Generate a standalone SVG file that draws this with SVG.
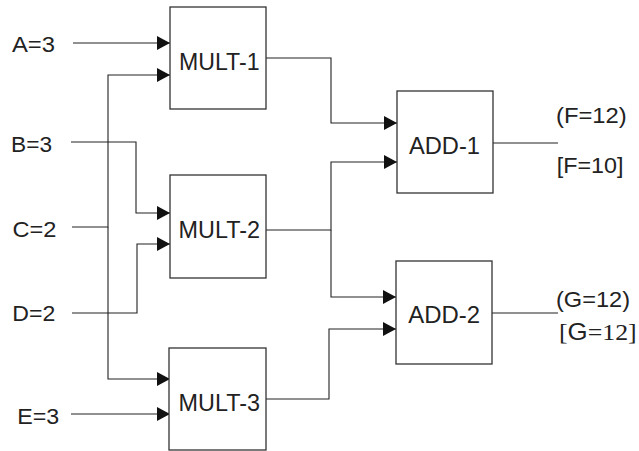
<svg xmlns="http://www.w3.org/2000/svg" width="639" height="451" viewBox="0 0 639 451">
<style>
.box{fill:#fff;stroke:#333;stroke-width:1.3}
.ln{fill:none;stroke:#222;stroke-width:1.1}
.t{font-family:"Liberation Sans",Arial,sans-serif;font-size:22px;fill:#222}
.b{font-size:23px}
tspan.s{font-family:"Liberation Serif","Times New Roman",serif}
</style>
<defs>
<marker id="ah" markerUnits="userSpaceOnUse" markerWidth="14" markerHeight="15" refX="13" refY="7" orient="auto">
<path d="M0,0 L13,7 L0,14 z" fill="#111"/>
</marker>
</defs>
<g id="connectors">
<path class="ln" d="M73,43 H170" marker-end="url(#ah)"/>
<path class="ln" d="M72,227 H108 V75 H170" marker-end="url(#ah)"/>
<path class="ln" d="M108,227 V379 H170" marker-end="url(#ah)"/>
<path class="ln" d="M71,142 H136 V213 H170" marker-end="url(#ah)"/>
<path class="ln" d="M72,313 H137 V244 H170" marker-end="url(#ah)"/>
<path class="ln" d="M71,414 H170" marker-end="url(#ah)"/>
<path class="ln" d="M266,58 H331 V123 H397" marker-end="url(#ah)"/>
<path class="ln" d="M266,230 H331 V162 H397" marker-end="url(#ah)"/>
<path class="ln" d="M331,230 V297 H396" marker-end="url(#ah)"/>
<path class="ln" d="M266,399 H329 V329 H396" marker-end="url(#ah)"/>
<path class="ln" d="M493,143 H558"/>
<path class="ln" d="M492,313 H558"/>
</g>
<g id="inputs">
<text class="t" x="12" y="52" textLength="43" lengthAdjust="spacingAndGlyphs">A=3</text>
<text class="t" x="11" y="152" textLength="41" lengthAdjust="spacingAndGlyphs">B=3</text>
<text class="t" x="12.5" y="237" textLength="44" lengthAdjust="spacingAndGlyphs">C=2</text>
<text class="t" x="12.3" y="321" textLength="43" lengthAdjust="spacingAndGlyphs">D=2</text>
<text class="t" x="17.3" y="424" textLength="42" lengthAdjust="spacingAndGlyphs">E=3</text>
</g>
<g id="mult1">
<rect class="box" x="170" y="7" width="96" height="102"/>
<text class="t b" x="179" y="70" textLength="80.5" lengthAdjust="spacingAndGlyphs">MULT-1</text>
</g>
<g id="mult2">
<rect class="box" x="170" y="175" width="96" height="103"/>
<text class="t b" x="178.5" y="237.7" textLength="81.5" lengthAdjust="spacingAndGlyphs">MULT-2</text>
</g>
<g id="mult3">
<rect class="box" x="169" y="348" width="97" height="102"/>
<text class="t b" x="178.5" y="411" textLength="81.5" lengthAdjust="spacingAndGlyphs">MULT-3</text>
</g>
<g id="add1">
<rect class="box" x="397" y="91" width="96" height="102"/>
<text class="t b" x="409" y="154" textLength="71" lengthAdjust="spacingAndGlyphs">ADD-1</text>
</g>
<g id="add2">
<rect class="box" x="396" y="261" width="96" height="103"/>
<text class="t b" x="408.3" y="323.3" textLength="71.7" lengthAdjust="spacingAndGlyphs">ADD-2</text>
</g>
<g id="outputs">
<text class="t" x="556" y="123" textLength="70.7" lengthAdjust="spacingAndGlyphs">(F=12)</text>
<text class="t" x="556.7" y="173" textLength="66.7" lengthAdjust="spacingAndGlyphs">[F=10]</text>
<text class="t" x="556" y="307" textLength="74" lengthAdjust="spacingAndGlyphs">(G=12)</text>
<text class="t" x="559" y="340" style="font-size:24px" textLength="77.7" lengthAdjust="spacingAndGlyphs"><tspan class="s" font-family="Liberation Serif, serif">[</tspan><tspan>G</tspan><tspan class="s" font-family="Liberation Serif, serif">=12]</tspan></text>
</g>
</svg>
